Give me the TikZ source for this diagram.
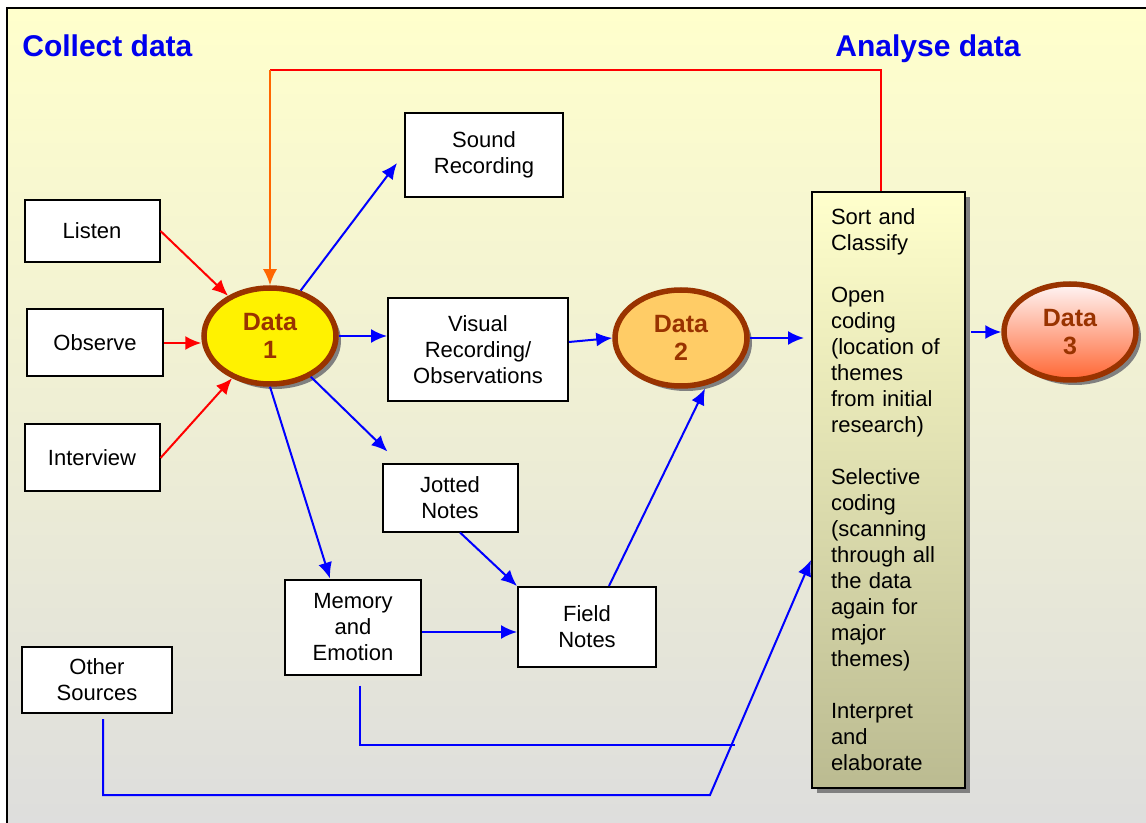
\documentclass[tikz,border=0pt]{standalone}
\usepackage{fontspec}
\setmainfont{Liberation Sans}
\usetikzlibrary{shapes.geometric,arrows.meta,shadows}

\definecolor{titleblue}{RGB}{0,0,238}
\definecolor{databrown}{RGB}{153,51,0}
\definecolor{bgtop}{RGB}{255,255,204}
\definecolor{bgbot}{RGB}{221,221,221}
\definecolor{sorttop}{RGB}{255,255,204}
\definecolor{sortbot}{RGB}{187,187,145}
\definecolor{datatwo}{RGB}{255,204,102}
\definecolor{datathree}{RGB}{255,102,51}
\definecolor{linkorange}{RGB}{255,102,0}

\tikzset{
  stepbox/.style={draw, line width=1pt, fill=white, inner sep=0pt, align=center,
    font=\fontsize{11}{13}\selectfont},
  dataell/.style={ellipse, draw=databrown, line width=2.75pt, minimum width=66pt,
    minimum height=48pt, inner sep=0pt, align=center, text=databrown,
    font=\bfseries\fontsize{12.5}{14}\selectfont,
    drop shadow={shadow xshift=2.5pt, shadow yshift=-2.5pt, fill=gray, opacity=1}},
  sortbox/.style={draw, line width=1pt, top color=sorttop, bottom color=sortbot,
    minimum width=76.5pt, minimum height=298pt, inner xsep=9.5pt, text width=57.5pt,
    align=left, font=\fontsize{11}{13}\selectfont,
    drop shadow={shadow xshift=2.5pt, shadow yshift=-2.5pt, fill=gray, opacity=1}},
  title/.style={text=titleblue, font=\bfseries\fontsize{15}{18}\selectfont,
    anchor=base west, inner sep=0pt},
  redarr/.style={->, red, line width=1pt},
  bluearr/.style={->, blue, line width=1pt}
}

\begin{document}
\begin{tikzpicture}[x=0.5pt, y=-0.5pt, >={Latex[length=8pt,width=7pt]}]
    \useasboundingbox (0,0) rectangle (1146,823);
    % background panel
    \draw[line width=0.75pt, top color=bgtop, bottom color=bgbot] (7,8) rectangle (1160,840);

    \node[title] (collect) at (22,57) {Collect data};
    \node[title] (analyse) at (835,57) {Analyse data};

    % collect side
    \node[stepbox, minimum width=67.5pt, minimum height=31pt]   (listen)    at (92,231)  {Listen};
    \node[stepbox, minimum width=68pt,   minimum height=33.5pt] (observe)   at (95,343)  {Observe};
    \node[stepbox, minimum width=67.5pt, minimum height=33.5pt] (interview) at (92,458)  {Interview};
    \node[stepbox, minimum width=79pt,   minimum height=42pt]   (sound)     at (484,155) {Sound\\Recording};
    \node[stepbox, minimum width=90pt,   minimum height=51.5pt] (visual)    at (478,350) {Visual\\Recording/\\Observations};
    \node[stepbox, minimum width=67.5pt, minimum height=33.5pt] (jotted)    at (450,498) {Jotted\\Notes};
    \node[stepbox, minimum width=68pt,   minimum height=47.5pt] (memory)    at (353,627) {Memory\\and\\Emotion};
    \node[stepbox, minimum width=69pt,   minimum height=40pt]   (field)     at (587,627) {Field\\Notes};
    \node[stepbox, minimum width=75pt,   minimum height=33pt]   (othersrc)  at (97,680)  {Other\\Sources};

    \node[dataell, fill=yellow]   (data1) at (270,336) {Data\\1};
    \node[dataell, fill=datatwo]  (data2) at (681,338) {Data\\2};
    \node[dataell, top color=red!4, bottom color=datathree] (data3) at (1070,332) {Data\\3};

    % analyse side
    \node[sortbox] (sortbox) at (888.5,490) {Sort and\\Classify\\[13pt]Open\\coding\\(location of\\themes\\from initial\\research)\\[13pt]Selective\\coding\\(scanning\\through all\\the data\\again for\\major\\themes)\\[13pt]Interpret\\and\\elaborate};

    % inputs
    \draw[redarr] (listen.east) -- (data1);
    \draw[redarr] (observe.east) -- (observe.east -| data1.west);
    \draw[redarr] (interview.east) -- (data1);

    % feedback loop
    \coordinate (fbcorner) at (270,70);
    \draw[red, line width=1pt] ([xshift=-3.75pt]sortbox.north) |- (fbcorner);
    \draw[->, linkorange, line width=1pt] (fbcorner) -- (data1.north);

    \draw[bluearr] (data1.56) -- ([xshift=-3.5pt,yshift=-4pt]sound.west);
    \draw[bluearr] (data1.east) -- (data1.east -| visual.west);
    \draw[bluearr] (data1.-45) -- ([xshift=3pt,yshift=6pt]jotted.north west);
    \draw[bluearr] (data1.south) -- ([xshift=-11.5pt]memory.north);
    \draw[bluearr] ([yshift=4pt]visual.east) -- (data2.west);
    \draw[bluearr] ([xshift=5pt]jotted.south) -- (field.north west);
    \draw[bluearr] ([yshift=-2.5pt]memory.east) -- ([yshift=-2.5pt]field.west);
    \draw[bluearr] ([xshift=11pt]field.north) -- ([xshift=12pt]data2.south);
    \draw[bluearr, shorten >=3.5pt] (data2.east) -- (data2.east -| sortbox.west);
    \draw[bluearr, shorten <=2.5pt] (sortbox.east |- data3.west) -- (data3.west);

    \coordinate (memend) at (735,745);
    \draw[blue, line width=1pt] ([xshift=3.5pt,yshift=-5pt]memory.south) |- (memend);
    \coordinate (osbend) at (710,795);
    \draw[bluearr] ([xshift=3pt,yshift=-2.5pt]othersrc.south) |- (osbend) -- ([yshift=-35pt]sortbox.west);
\end{tikzpicture}
\end{document}
